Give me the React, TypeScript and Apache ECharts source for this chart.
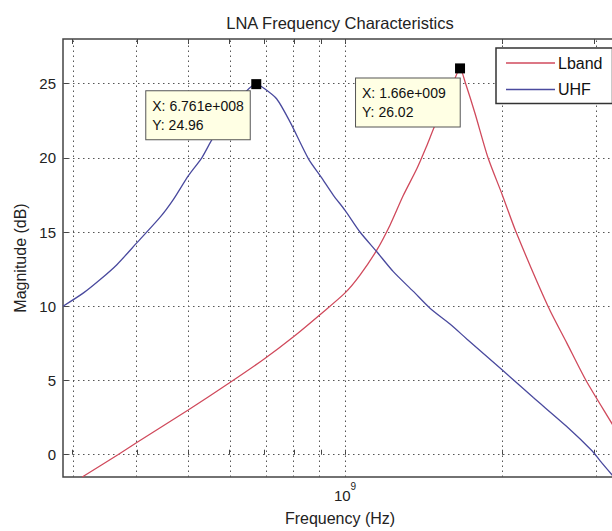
import React, { useEffect, useRef } from 'react';
import * as echarts from 'echarts';

// ---- data (frequency in Hz, magnitude in dB) ----
const UHF_FREQ = [2.884e8, 3.157e8, 3.398e8, 3.657e8, 4.0e8, 4.426e8, 4.693e8, 5.013e8, 5.318e8,
  5.557e8, 6.0e8, 6.436e8, 6.761e8, 6.98e8, 7.40e8, 7.85e8, 8.51e8, 9.0e8, 9.50e8,
  1.0e9, 1.068e9, 1.150e9, 1.237e9, 1.351e9, 1.454e9, 1.588e9, 1.710e9, 2.0e9,
  2.293e9, 2.657e9, 2.973e9, 3.076e9, 3.243e9, 3.32e9];
const UHF_DB = [10.0, 10.9, 11.8, 12.8, 14.3, 16.0, 17.2, 18.8, 20.0,
  21.2, 23.0, 24.4, 24.96, 24.7, 23.96, 22.4, 19.93, 18.7, 17.47,
  16.46, 15.0, 13.67, 12.33, 11.0, 9.87, 8.8, 7.8, 5.7,
  3.85, 1.9, 0.25, -0.4, -1.35, -1.75];

const LBAND_FREQ = [3.139e8, 3.674e8, 4.0e8, 5.0e8, 6.0e8, 7.0e8, 8.0e8, 9.0e8, 1.0e9, 1.068e9,
  1.150e9, 1.219e9, 1.293e9, 1.372e9, 1.433e9, 1.486e9, 1.554e9, 1.602e9, 1.66e9, 1.701e9,
  1.773e9, 1.878e9, 2.0e9, 2.125e9, 2.446e9, 2.66e9, 2.893e9, 3.243e9, 3.32e9];
const LBAND_DB = [-1.5, 0, 0.84, 3.0, 4.83, 6.45, 8.0, 9.5, 10.9, 12.1,
  13.78, 15.46, 17.47, 19.26, 20.8, 22.17, 23.6, 24.8, 26.02, 25.0,
  23.0, 20.0, 17.5, 15.0, 10.0, 7.5, 5.0, 2.1, 1.5];

const UHF_PEAK = [6.761e8, 24.96];
const LBAND_PEAK = [1.66e9, 26.02];

const X_GRID = [3e8, 4e8, 5e8, 6e8, 7e8, 8e8, 9e8, 1e9, 2e9, 3e9];
const X_LABELS = [1e9];
const Y_TICKS = [0, 5, 10, 15, 20, 25];

const X_MIN = 2.884e8;
const X_MAX = 3.316e9;
const Y_MIN = -1.5;
const Y_MAX = 28;

const FONT = '"Liberation Sans", Arial, Helvetica, sans-serif';
const lg = (f: number) => Math.log10(f);

function matlabExp(v: number): string {
  const [m, e] = v.toExponential(3).split('e');
  const mant = m.replace(/\.?0+$/, '');
  const en = parseInt(e, 10);
  const sign = en < 0 ? '-' : '+';
  return `${mant}e${sign}${String(Math.abs(en)).padStart(3, '0')}`;
}

const tipLabel = (offset: number[], padRight: number) => ({
  show: true,
  position: offset,
  formatter: (p: any) => {
    const d = p.data.raw as number[];
    return `X: ${matlabExp(d[0])}\nY: ${d[1]}`;
  },
  backgroundColor: '#FFFFE4',
  borderColor: '#555',
  borderWidth: 1,
  padding: [5, padRight, 5, 6],
  lineHeight: 19,
  fontSize: 14,
  color: '#111',
  fontFamily: FONT,
  align: 'left',
  verticalAlign: 'top',
});

export default function App() {
  const ref = useRef<HTMLDivElement>(null);
  useEffect(() => {
    if (!ref.current) return;
    const chart = echarts.init(ref.current, undefined, { renderer: 'svg' });
    const tickLine = { color: '#444', width: 1 };
    const option: any = {
      animation: false,
      backgroundColor: '#fff',
      textStyle: { fontFamily: FONT },
      title: {
        text: 'LNA Frequency Characteristics',
        left: 340,
        top: 14,
        padding: 0,
        textAlign: 'center',
        textStyle: { fontSize: 16.5, fontWeight: 'normal', color: '#222', fontFamily: FONT },
      },
      grid: {
        left: 63, top: 39, right: 23, bottom: 53,
        show: true, borderColor: '#444', borderWidth: 1.5, backgroundColor: '#fff',
      },
      legend: {
        data: ['Lband', 'UHF'],
        orient: 'vertical',
        left: 496,
        top: 48,
        padding: [7, 10, 6, 10],
        itemGap: 10.6,
        itemWidth: 49,
        itemHeight: 1.5,
        icon: 'rect',
        borderColor: '#333',
        borderWidth: 1.5,
        backgroundColor: '#fff',
        textStyle: { fontSize: 16, lineHeight: 15, color: '#111', fontFamily: FONT, padding: [0, 0, 0, -2] },
      },
      xAxis: [
        {
          type: 'value', min: lg(X_MIN), max: lg(X_MAX), position: 'bottom',
          name: 'Frequency (Hz)', nameLocation: 'middle', nameGap: 33,
          nameTextStyle: { fontSize: 16, color: '#222', fontFamily: FONT },
          axisLine: { show: false },
          axisTick: { show: true, inside: true, length: 5, customValues: X_GRID.map(lg), lineStyle: tickLine },
          axisLabel: {
            customValues: X_LABELS.map(lg),
            margin: 4,
            formatter: (v: number) => `{b|10}{s|${Math.round(v)}}`,
            rich: {
              b: { fontSize: 15, lineHeight: 22, verticalAlign: 'bottom', color: '#222', fontFamily: FONT },
              s: { fontSize: 10, lineHeight: 22, verticalAlign: 'top', color: '#222', fontFamily: FONT },
            },
          },
          splitLine: { show: false },
        },
        {
          type: 'value', min: lg(X_MIN), max: lg(X_MAX), position: 'top',
          axisLine: { show: false },
          axisTick: { show: true, inside: true, length: 5, customValues: X_GRID.map(lg), lineStyle: tickLine },
          axisLabel: { show: false },
          splitLine: { show: false },
        },
      ],
      yAxis: {
        type: 'value', min: Y_MIN, max: Y_MAX,
        name: 'Magnitude (dB)', nameLocation: 'middle', nameGap: 33, nameRotate: 90,
        nameTextStyle: { fontSize: 16, color: '#222', fontFamily: FONT },
        axisLine: { show: false },
        axisTick: { show: true, inside: true, length: 5, customValues: Y_TICKS, lineStyle: tickLine },
        axisLabel: { customValues: Y_TICKS, fontSize: 15, margin: 7, color: '#222', fontFamily: FONT },
        splitLine: { show: false },
      },
      series: [
        {
          name: 'Lband',
          type: 'line',
          symbol: 'none',
          smooth: 0.25,
          z: 3,
          lineStyle: { color: '#D04A5C', width: 1.3 },
          itemStyle: { color: '#D04A5C' },
          data: LBAND_FREQ.map((f, i) => [lg(f), LBAND_DB[i]]),
          markPoint: {
            z: 10,
            symbol: 'rect',
            symbolSize: 10,
            itemStyle: { color: '#000' },
            data: [{ coord: [lg(LBAND_PEAK[0]), LBAND_PEAK[1]], raw: LBAND_PEAK }],
            label: tipLabel([-99, 15], 14),
          },
        },
        {
          name: 'UHF',
          type: 'line',
          symbol: 'none',
          smooth: 0.25,
          z: 3,
          lineStyle: { color: '#4A4A9E', width: 1.3 },
          itemStyle: { color: '#4A4A9E' },
          data: UHF_FREQ.map((f, i) => [lg(f), UHF_DB[i]]),
          markPoint: {
            z: 10,
            symbol: 'rect',
            symbolSize: 10,
            itemStyle: { color: '#000' },
            data: [{ coord: [lg(UHF_PEAK[0]), UHF_PEAK[1]], raw: UHF_PEAK }],
            label: tipLabel([-105, 12], 6),
          },
          markLine: {
            z: 1,
            silent: true,
            symbol: ['none', 'none'],
            label: { show: false },
            lineStyle: { color: '#555', type: [1.5, 3.5], width: 1 },
            data: [
              ...X_GRID.map((f) => ({ xAxis: lg(f) })),
              ...Y_TICKS.map((v) => ({ yAxis: v })),
            ],
          },
        },
      ],
    };
    chart.setOption(option);
    return () => chart.dispose();
  }, []);

  return (
    <div style={{ position: 'fixed', left: 0, top: 0, width: 612, height: 531, overflow: 'hidden', background: '#fff' }}>
      <div ref={ref} style={{ width: 640, height: 531 }} />
    </div>
  );
}
